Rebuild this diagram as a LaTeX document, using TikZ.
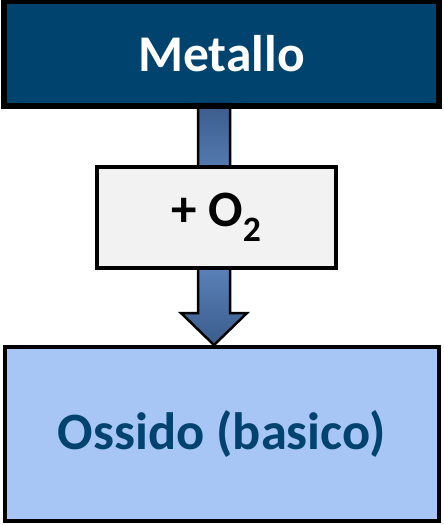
\documentclass[tikz,border=0pt]{standalone}
\usepackage{fontspec}
\setmainfont{Carlito}
\usetikzlibrary{calc}
\definecolor{navy}{HTML}{00436E}
\definecolor{lightblue}{HTML}{A7C5F5}
\definecolor{lightgray}{HTML}{F2F2F2}
\definecolor{arrdark}{HTML}{3B5C8C}
\definecolor{arrlight}{HTML}{6A95D0}
\tikzset{
  box/.style={draw=black, line width=4pt, rectangle, inner sep=0pt, align=center},
}
\begin{document}
\begin{tikzpicture}[x=1pt,y=-1pt]
\useasboundingbox (0,0) rectangle (444,525);
\node[box, fill=navy, text=white, minimum width=433pt, minimum height=103pt, font=\fontsize{51.5}{60}\selectfont\bfseries] (metallo) at (221.5,53.5) {Metallo};
\node[box, fill=lightblue, text=navy, minimum width=434pt, minimum height=174pt, font=\fontsize{52.5}{60}\selectfont\bfseries] (ossido) at (222,434) {Ossido (basico)};
% arrow from metallo to ossido
\coordinate (tip) at ($(ossido.north)+(-8,0)$);
\coordinate (start) at ($(metallo.south)+(-7.5,-3)$);
\draw[line width=2.5pt, line join=miter, top color=arrdark, bottom color=arrdark, middle color=arrlight]
  ($(start)+(-16,0)$) -- ($(tip)+(-16,-32)$) -- ($(tip)+(-33,-32)$) -- (tip)
  -- ($(tip)+(33,-32)$) -- ($(tip)+(16,-32)$) -- ($(start)+(16,0)$) -- cycle;
\node[box, fill=lightgray, text=black, minimum width=239pt, minimum height=101pt, font=\fontsize{51}{60}\selectfont\bfseries] (o2) at (216.5,217.5) {+ O\textsubscript{2}};
\draw[line width=4pt] (metallo.south west) rectangle (metallo.north east);
\end{tikzpicture}
\end{document}
